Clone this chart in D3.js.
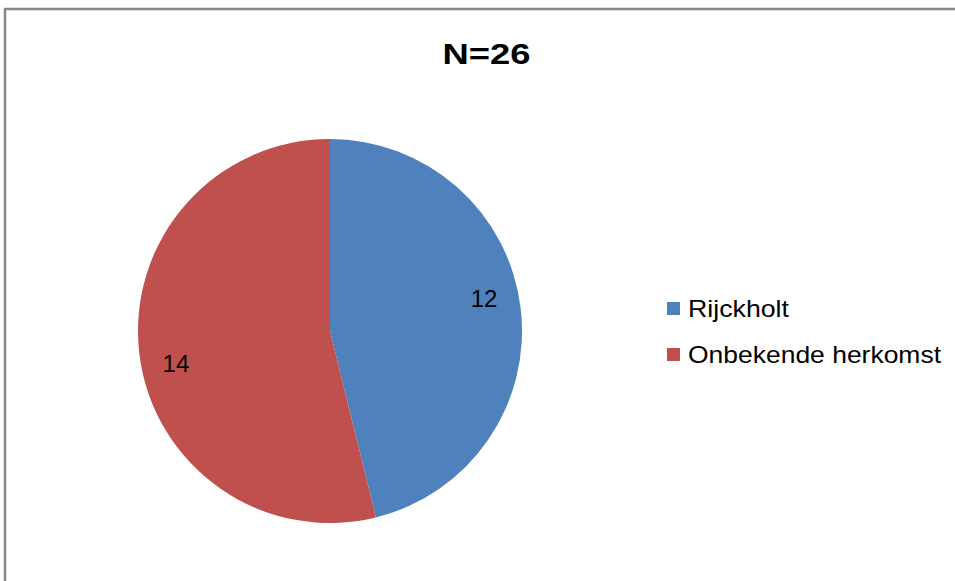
<!DOCTYPE html>
<html>
<head>
<meta charset="utf-8">
<script src="https://cdn.jsdelivr.net/npm/d3@7"></script>
<style>
  body { margin: 0; background: #fff; }
  text { font-family: "Liberation Sans", Arial, sans-serif; }
</style>
</head>
<body>
<div id="chart"></div>
<script>
// data
const categories = ["Rijckholt", "Onbekende herkomst"];
const values = [12, 14];
const colors = ["#4F81BD", "#C0504D"];
const title = "N=26";

const width = 955, height = 581;

const svg = d3.select("#chart").append("svg")
    .attr("width", width)
    .attr("height", height);

// chart frame (right/bottom edges run off the picture)
svg.append("rect")
    .attr("x", 5)
    .attr("y", 9)
    .attr("width", 1000)
    .attr("height", 1000)
    .attr("fill", "none")
    .attr("stroke", "#878787")
    .attr("stroke-width", 2.5);

// title
svg.append("text")
    .attr("x", 486.5)
    .attr("y", 64)
    .attr("text-anchor", "middle")
    .attr("font-size", 30)
    .attr("font-weight", "bold")
    .attr("textLength", 88)
    .attr("lengthAdjust", "spacingAndGlyphs")
    .text(title);

// pie
const cx = 330, cy = 331, r = 192;
const pie = d3.pie().sort(null).value(d => d);
const arc = d3.arc().innerRadius(0).outerRadius(r);

const g = svg.append("g").attr("transform", `translate(${cx},${cy})`);

g.selectAll("path")
    .data(pie(values))
    .enter().append("path")
    .attr("d", arc)
    .attr("fill", (d, i) => colors[i]);

// data labels - excel puts them a little counter-clockwise of the mid angle
const labelR = r * 0.82;
const shift = -5 * Math.PI / 180;
g.selectAll(".lbl")
    .data(pie(values))
    .enter().append("text")
    .attr("class", "lbl")
    .attr("text-anchor", "middle")
    .attr("font-size", 24)
    .attr("fill", "#000")
    .attr("x", d => labelR * Math.sin((d.startAngle + d.endAngle) / 2 + shift))
    .attr("y", d => -labelR * Math.cos((d.startAngle + d.endAngle) / 2 + shift) + 8.5)
    .text(d => d.data);

// legend
const legend = svg.append("g").attr("transform", "translate(667,302)");
const items = legend.selectAll("g")
    .data(categories)
    .enter().append("g")
    .attr("transform", (d, i) => `translate(0,${i * 46})`);

items.append("rect")
    .attr("width", 13)
    .attr("height", 13)
    .attr("fill", (d, i) => colors[i]);

items.append("text")
    .attr("x", 21)
    .attr("y", 15)
    .attr("font-size", 24)
    .attr("fill", "#000")
    .attr("textLength", (d, i) => i === 0 ? 101 : 253)
    .attr("lengthAdjust", "spacingAndGlyphs")
    .text(d => d);
</script>
</body>
</html>
